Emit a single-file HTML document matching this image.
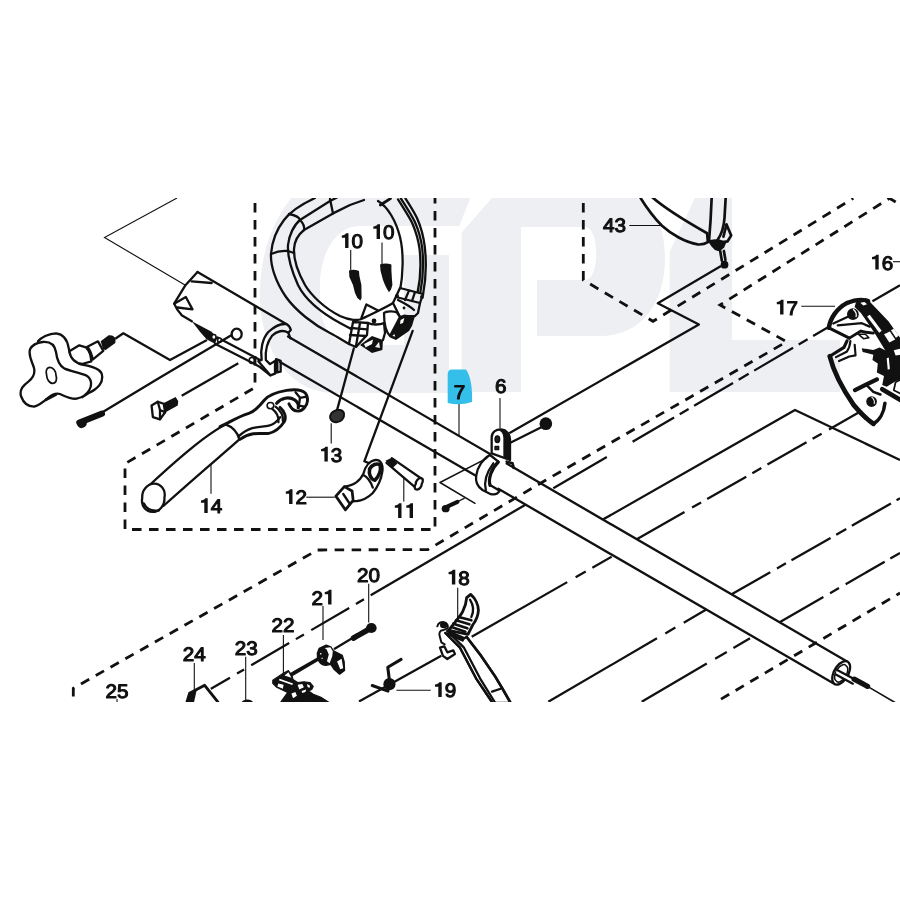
<!DOCTYPE html>
<html><head><meta charset="utf-8"><title>Parts diagram</title>
<style>
html,body{margin:0;padding:0;background:#fff;}
body{width:900px;height:900px;overflow:hidden;font-family:"Liberation Sans",sans-serif;}
svg{display:block;}
</style></head><body>
<svg width="900" height="900" viewBox="0 0 900 900">
<defs><clipPath id="clip"><rect x="0" y="198" width="900" height="503.5"/></clipPath></defs>
<rect width="900" height="900" fill="#fff"/>
<g clip-path="url(#clip)">
<g fill="none" stroke="#111" stroke-width="2.3" stroke-linejoin="round">
<path d="M115.3,338.7 L123.3,333.3 L170,360 L207,340"/>
<path d="M181.7,395.8 L238.3,363.3"/>
<path d="M721,266 L657.8,303.3 L698.9,324.4 L509.2,433.3"/>
<path d="M601.5,520.3 L795,410 L900,460"/>
<path d="M359,701.4 L441.3,655.7"/>
<path d="M900,285.3 L872.4,301.3"/>
</g>
<g fill="none" stroke="#111" stroke-width="2.3"><path d="M827.6,327.6 L553.3,488.3" stroke-dasharray="16.8 6.4 10.3 6.5 45.1 6.4 11.6 6.5 45.1 6.4 10.3 6.5 48.1 29.9 70"/>
<path d="M526.7,503.9 L370.7,595.3"/>
<path d="M370.7,595.3 L210.9,688.9" stroke-dasharray="0 7.8 9.3 7.8 44 8.5 9.3 7.8 44 8.2 8.2 8.2 22"/>
<path d="M471.7,636.7 L611.7,556.7" stroke-dasharray="110 9.7 11.6 7.7 26"/>
<path d="M635,540.2 L863,410" stroke-dasharray="57 8.7 10.4 7 45 7 10.4 7 45 7 10.4 8.5 60"/>
<path d="M548.3,701.7 L706.7,609.3" stroke-dasharray="125.8 9.7 11.6 9.7 30"/>
<path d="M729,595.8 L900,498.3" stroke-dasharray="47.5 7.7 10.3 6.4 45 6.5 11.6 6.4 45 6.5 11.6 6.5 45"/>
<path d="M641.7,701.7 L750,638.3" stroke-dasharray="75.4 9.7 13.5 7.7 24"/>
<path d="M777,623.7 L900,553" stroke-dasharray="53.5 7.7 10.3 7.7 45 6.5 11.6 6.5 45"/></g>
<g fill="none" stroke="#111" stroke-width="1.1">
<path d="M177,198 L104.5,237.5 L185,285"/>
<path d="M350.7,250 V270"/>
<path d="M382,242.5 V265"/>
<path d="M629.3,225.5 H661.2"/>
<path d="M893,261.7 H900"/>
<path d="M801.3,306.3 H835"/>
<path d="M459,403 V435"/>
<path d="M500,398 V428"/>
<path d="M331.2,423.3 V443.4"/>
<path d="M306.3,497.2 H334.8"/>
<path d="M403.8,477 V501.4"/>
<path d="M211,463.7 V493.7"/>
<path d="M368.7,583.7 V622.5"/>
<path d="M323,606 V640"/>
<path d="M283.4,635 V672.9"/>
<path d="M245.7,656.7 V701"/>
<path d="M194.3,663 V690"/>
<path d="M457.7,587.7 V618"/>
<path d="M396.4,690.3 H430.7"/>
<path d="M117,699 V702"/>
</g>
<g transform="translate(0,0) scale(1.000000)" fill="none" stroke="#111" stroke-width="2.30" stroke-linejoin="round" stroke-linecap="round">
<path d="M288,336.5 L847.5,661.7 L833.3,683.3 L280,362 Z" fill="#fff" stroke="none"/>
<path d="M288,336.5 L490,453.9 M506.7,463.6 L847.5,661.7"/>
<path d="M280,362 L476.7,476.2 M498.3,488.8 L833.3,683.3"/>
</g>
<g transform="translate(260,195) scale(0.200000)" fill="none" stroke="#111" stroke-width="11.50" stroke-linejoin="round" stroke-linecap="round">
<path d="M275,15 C200,50 150,85 120,125 C85,170 60,230 55,295 C52,350 75,430 130,510 C180,580 270,650 350,690 C385,708 415,728 445,745 L480,760 L560,790 L612,775 L615,725 L650,712 L680,725 L745,680 L760,655 L775,605 L790,590 L800,540 L815,495 C835,420 840,310 820,230 C800,150 760,70 720,15 L720,-20 L275,-20 Z M520,25 L450,50 L365,92 L220,175 C195,195 172,230 170,270 C168,320 185,380 225,450 C255,500 320,565 400,605 C450,628 490,628 507,620 C540,605 570,590 590,580 C630,560 650,550 665,540 C685,525 695,505 700,480 C715,400 720,290 700,210 C680,130 640,60 590,30 L590,-10 L520,-10 Z" fill="#fff" fill-rule="evenodd" stroke="none"/>
<path d="M275,15 C200,50 150,85 120,125 C85,170 60,230 55,295 C52,350 75,430 130,510 C180,580 270,650 350,690 C385,708 415,728 445,745"/>
<path d="M385,12 L350,30 L200,125 C170,150 145,200 140,250 C137,300 150,360 190,450 C220,510 290,580 400,640 L465,675"/>
<path d="M520,25 L450,50 L365,92 L220,175 C195,195 172,230 170,270 C168,320 185,380 225,450 C255,500 320,565 400,605 C450,628 490,628 507,620 C540,605 570,590 590,580 C630,560 650,550 665,540 C685,525 695,505 700,480 C715,400 720,290 700,210 C680,130 640,60 590,30"/>
<path d="M350,20 L365,92"/>
<path d="M145,95 Q195,105 200,125 Q225,150 220,175"/>
<path d="M55,295 Q100,275 140,280 L170,290"/>
<path d="M727,17 C755,60 775,95 785,115 C805,160 818,210 824,260 C832,330 830,420 815,500"/>
<path d="M704,17 C735,65 760,105 774,134 C792,175 805,220 811,265 C818,330 816,420 800,497"/>
<path d="M690,22 C722,72 747,112 761,140 C779,182 792,225 798,270 C805,335 803,420 787,492"/>
<path d="M652,18 L602,50" stroke-width="14"/>
<path d="M507,615 L532,547 L590,577"/>
<path d="M465,635 L540,640 L535,700 L480,760 L445,745 Z" fill="#fff"/>
<path d="M500,640 L480,755"/>
<path d="M455,665 L535,672"/>
<path d="M450,700 L530,705"/>
<path d="M500,750 L560,705 L615,725 L612,775 L560,790 Z" fill="#111" stroke="none"/>
<path d="M520,745 L565,722 L560,745 L528,762 Z" fill="#fff" stroke="none"/>
<path d="M575,760 L595,735 L600,765 Z" fill="#fff" stroke="none"/>
<path d="M540,640 C560,650 600,650 620,640 L625,690 L615,725"/>
<path d="M700,465 L815,495 L800,540 L790,590 L775,605 L700,610 L665,540 Z" fill="#fff"/>
<path d="M680,510 L800,540"/>
<path d="M745,478 L725,525"/>
<path d="M775,486 L760,530"/>
<path d="M690,525 C720,540 750,555 770,575"/>
<path d="M620,590 C630,580 670,578 685,588 L700,610 L650,705 C635,690 620,650 620,590 Z" fill="#fff"/>
<path d="M695,610 L720,598 L775,605 L760,655 L745,680 L680,725 L650,712 Z" fill="#111" stroke="none"/>
<path d="M703,625 L722,615 L715,640 L700,645 Z" fill="#fff" stroke="none"/>
<path d="M662,705 L672,695 L676,708 Z" fill="#fff" stroke="none"/>
<path d="M675,505 a10,10 0 1,0 20,0 a10,10 0 1,0 -20,0 M800,510 a10,10 0 1,0 20,0 a10,10 0 1,0 -20,0 M558,630 a12,12 0 1,0 24,0 a12,12 0 1,0 -24,0 M713,565 a7,7 0 1,0 14,0 a7,7 0 1,0 -14,0" fill="#111" stroke="none"/>
<path d="M445,378 Q470,368 495,380 L497,405 L507,450 L508,515 L502,528 L487,515 L475,490 L465,450 L447,410 Z" fill="#111" stroke="none"/>
<path d="M600,348 Q628,336 657,348 L657,378 L660,425 L662,450 L655,472 L645,486 L635,470 L625,450 L615,425 L603,380 Z" fill="#111" stroke="none"/>
</g>
<g transform="translate(780,280) scale(0.177778)" fill="none" stroke="#111" stroke-width="12.94" stroke-linejoin="round" stroke-linecap="round">
<path d="M275,269 C285,200 340,130 465,109 L495,119 L605,234 L680,340 L680,680 L590,694 C585,740 565,784 525,809 C440,750 330,600 280,429 L360,379 L390,327 Z" fill="#fff" stroke="none"/>
<path d="M275,269 C282,215 320,160 375,130 C420,112 465,107 495,119" stroke-width="25"/>
<path d="M275,269 L390,327" stroke-width="18"/>
<path d="M300,245 L385,205"/>
<path d="M325,255 L460,243 L505,262"/>
<path d="M377,192 a33,33 0 1,0 66,0 a33,33 0 1,0 -66,0" fill="#111" stroke="none"/>
<path d="M413,166 Q434,185 428,206" stroke="#fff" stroke-width="7"/>
<path d="M432,128 L495,119 L605,234 L680,340 L680,425 L600,400 L545,309 L505,249 L460,184 L425,150 Z" fill="#111" stroke-width="10"/>
<path d="M490,205 L505,195 L572,285 L558,297 Z" fill="#fff" stroke="none"/>
<path d="M585,305 L618,290 L648,335 L615,352 Z" fill="#fff" stroke="none"/>
<path d="M624,283 L640,274 L668,314 L652,325 Z" fill="#fff" stroke="none"/>
<path d="M452,128 L475,124 L490,137 L468,143 Z" fill="#fff" stroke="none"/>
<path d="M390,327 L455,287 L485,294 L525,299" stroke-width="16"/>
<path d="M440,305 L470,330 L500,325 L480,305 Z" stroke-width="9"/>
<path d="M280,429 L360,379 L377,342" stroke-width="18"/>
<path d="M315,434 L375,404 Q393,380 396,344" stroke-width="12"/>
<path d="M332,456 L390,430 L425,424 L420,364" stroke-width="12"/>
<path d="M280,429 C300,510 350,610 415,704 C450,745 490,785 525,809" stroke-width="27"/>
<path d="M525,809 C560,790 585,745 590,694" stroke-width="20"/>
<path d="M485,684 a30,30 0 1,0 60,0 a30,30 0 1,0 -60,0" fill="#111" stroke="none"/>
<path d="M517,660 Q535,675 530,695" stroke="#fff" stroke-width="6"/>
<path d="M422,619 L545,559" stroke-width="24"/>
<path d="M490,594 L525,629 L565,644" stroke-width="14"/>
<path d="M575,614 L680,676" stroke-width="26"/>
<path d="M460,384 L525,394 L560,380 L600,400 L680,425 L680,560 L650,569 L600,600 L575,590 L585,540 L545,520 L550,470 L520,450 L525,420 L465,405 Z" fill="#111" stroke="none"/>
<path d="M600,440 L612,436 L618,500 L606,505 Z" fill="#fff" stroke="none"/>
<path d="M640,395 L680,385 L680,420 L650,425 Z" fill="#fff" stroke="none"/>
<path d="M650,575 L680,560 L680,640 L640,620 Z" fill="#fff" stroke-width="10"/>
</g>
<g transform="translate(130,370) scale(0.222222)" fill="none" stroke="#111" stroke-width="10.35" stroke-linejoin="round" stroke-linecap="round">
<path d="M75,530 C150,460 250,370 330,310 C370,280 400,260 430,245 Q478,262 492,312 C440,360 330,450 150,612 Z" fill="#fff"/>
<path d="M55,575 a50,56 20 1,0 100,0 a50,56 20 1,0 -100,0" fill="#fff"/>
<path d="M62,600 Q80,640 130,632"/>
<path d="M405,255 L440,238 C470,222 500,205 535,195 C560,188 585,160 605,135 C625,112 670,98 705,92 C735,87 770,85 790,105 C805,125 800,155 785,170 C770,188 745,190 730,175 C722,165 718,160 715,152" stroke-width="13"/>
<path d="M490,297 C510,280 530,268 550,262 C580,255 605,255 625,250 C645,245 665,228 676,212"/>
<path d="M495,312 C515,298 535,290 555,287 C585,283 605,288 625,285 C650,280 675,262 695,232 C705,212 695,185 675,168" stroke-width="13"/>
<path d="M660,150 C680,125 715,118 742,135 C755,145 760,158 757,170" stroke-width="14"/>
<path d="M617,160 a15,14 0 1,0 30,0 a15,14 0 1,0 -30,0" stroke-width="7"/>
<path d="M640,175 C660,190 670,215 668,235"/>
<path d="M655,165 C675,180 690,205 688,230"/>
<path d="M745,100 L765,125 L795,120"/>
<path d="M765,125 L760,160 L785,165"/>
</g>
<g transform="translate(130,370) scale(0.222222)" fill="none" stroke="#111" stroke-width="10.35" stroke-linejoin="round" stroke-linecap="round">
<path d="M97,160 L125,143 L152,152 L158,190 L135,222 L103,212 Z" fill="#fff"/>
<path d="M125,143 L135,180 L158,190 M135,180 L135,222"/>
<path d="M150,150 L205,122 L217,140 L215,160 L160,190 Z" fill="#111" stroke="none"/>
</g>
<g transform="translate(10,320) scale(0.133333)" fill="none" stroke="#111" stroke-width="17.25" stroke-linejoin="round" stroke-linecap="round">
<path d="M210,160 C230,135 290,100 345,100 C400,105 430,150 440,210 C445,260 470,310 520,330 C560,340 620,345 665,375 C700,400 700,450 670,490 C650,515 620,535 590,548 L540,580 L300,300 Z" fill="#fff"/>
<path d="M445,235 L520,190 L570,205 C595,230 608,270 610,310 L540,330 C490,320 455,290 445,235 Z" fill="#fff"/>
<path d="M580,200 L660,160 L700,232 L620,297 C615,260 600,225 580,200 Z" fill="#fff"/>
<path d="M680,160 L740,115 Q775,110 792,140 L790,172 L715,226 L697,215 Z" fill="#111" stroke="none"/>
<path d="M150,220 C165,190 200,170 245,165 C300,160 335,185 345,240 C352,300 370,345 410,365 C450,382 520,395 570,415 C615,440 615,490 595,525 C575,560 545,580 500,590 C450,595 410,570 375,555 C345,545 320,555 290,580 C250,615 215,640 180,650 C135,650 100,620 82,570 C70,520 100,490 140,460 C170,435 190,400 180,360 C170,320 135,270 150,220 Z" fill="#fff"/>
<path d="M275,415 a35,50 -20 1,0 70,0 a35,50 -20 1,0 -70,0" stroke-width="13"/>
<path d="M270,598 L345,560" stroke-width="20"/>
</g>
<g transform="translate(10,320) scale(0.133333)" fill="none" stroke="#111" stroke-width="17.25" stroke-linejoin="round" stroke-linecap="round">
<path d="M520,770 L690,702" stroke-width="46"/>
<path d="M535,780 L545,776" stroke-width="62"/>
</g>
<g transform="translate(160,260) scale(0.166667)" fill="none" stroke="#111" stroke-width="13.80" stroke-linejoin="round" stroke-linecap="round">
<path d="M225,72 L760,385 L700,392 L640,440 L605,520 L610,600 L662,692 L330,503 L279,476 L191,368 L130,331 L85,262 L150,155 Z" fill="#fff" stroke="none"/>
<path d="M225,72 L760,385"/>
<path d="M225,72 L150,155 L85,262 Q100,300 130,331 L191,368"/>
<path d="M190,128 L310,138"/>
<path d="M85,262 L155,222 L195,296 L105,285"/>
<path d="M191,368 L307,429 L345,465 L330,503 L279,476 L240,430 Z" fill="#111" stroke="none"/>
<path d="M345,465 L612,606"/>
<path d="M330,503 L568,624 L600,642 L662,692"/>
<path d="M310,462 a13,15 0 1,0 26,0 a13,15 0 1,0 -26,0 M346,481 a11,13 0 1,0 22,0 a11,13 0 1,0 -22,0" fill="#fff" stroke-width="9"/>
<path d="M535,603 a16,18 0 1,0 32,0 a16,18 0 1,0 -32,0" stroke-width="9"/>
<path d="M430,445 a30,33 0 1,0 60,0 a30,33 0 1,0 -60,0" fill="#fff"/>
<path d="M760,385 C730,380 690,395 650,432 C615,470 600,540 610,600 L590,607 L662,692 L690,682 L690,605 L660,625 L635,600 C630,540 645,490 672,455 C700,425 740,418 770,436 L785,420 C780,400 770,390 760,385 Z" fill="#fff"/>
<path d="M770,436 L782,470"/>
<path d="M696,595 L724,605 L724,670 L696,675 Z"/>
<path d="M696,595 L711,600 L711,673 L696,675 Z" fill="#111" stroke="none"/>
</g>
<g transform="translate(420,380) scale(0.166667)" fill="none" stroke="#111" stroke-width="13.80" stroke-linejoin="round" stroke-linecap="round">
<path d="M420,450 C380,470 345,520 337,575 C332,610 345,640 375,660 L425,685 C450,690 470,680 478,665 L420,630 C410,590 425,530 470,490 Z" fill="#fff"/>
<path d="M470,492 C430,530 408,590 420,632" stroke-width="19"/>
<path d="M395,660 C385,620 395,560 440,500"/>
<path d="M430,345 C430,310 460,295 487,297 C520,300 540,325 540,355 L540,480 L430,440 Z" fill="#fff"/>
<path d="M487,297 C520,300 544,325 544,355 L544,484 L500,468 L500,350 C500,325 492,310 470,300 Z" fill="#111" stroke="none"/>
<path d="M450,355 a14,20 0 1,0 28,0 a14,20 0 1,0 -28,0" fill="#222" stroke-width="8"/>
<path d="M450,398 h22 v20 h-22 Z" fill="#222" stroke-width="8"/>
<path d="M520,490 L555,500 L562,527" stroke-width="16"/>
<path d="M545,375 L725,285"/>
<path d="M717,262 a38,38 0 1,0 76,0 a38,38 0 1,0 -76,0" fill="#111" stroke="none"/>
</g>
<g transform="translate(420,380) scale(0.166667)" fill="none" stroke="#111" stroke-width="13.80" stroke-linejoin="round" stroke-linecap="round">
<path d="M150,766 L225,731" stroke-width="24"/>
<path d="M130,772 a24,22 0 1,0 48,0 a24,22 0 1,0 -48,0" fill="#111" stroke="none"/>
<path d="M222,732 L265,710" stroke-width="8"/>
<path d="M120,615 L330,740 M120,615 L400,470" stroke-width="9"/>
</g>
<g transform="translate(620,190) scale(0.155521)" fill="none" stroke="#111" stroke-width="17.36" stroke-linejoin="round" stroke-linecap="round">
<path d="M200,40 C300,130 440,210 560,278 L565,335 C550,345 530,352 500,350 C420,335 330,285 270,230 C230,190 180,130 125,40 Z" fill="#fff"/>
<path d="M590,40 L582,200 L572,330 L625,325 C650,290 668,240 672,180 L680,40 Z" fill="#fff"/>
<path d="M685,222 L715,292 L692,330 L640,338"/>
<path d="M685,222 L665,300"/>
<path d="M565,330 L600,320 L640,318 L685,335 L670,370 L640,395 L610,385 L590,365 Z" fill="#111" stroke="none"/>
<path d="M645,395 L655,455 M668,392 L678,450"/>
<path d="M647,480 a25,25 0 1,0 50,0 a25,25 0 1,0 -50,0" fill="#111" stroke="none"/>
</g>
<g transform="translate(420,585) scale(0.133333)" fill="none" stroke="#111" stroke-width="17.25" stroke-linejoin="round" stroke-linecap="round">
<path d="M190,360 L300,470 L420,700 L545,885 L680,885 L620,780 L560,680 L450,520 L350,390 L330,400 Z" fill="#fff"/>
<path d="M190,360 L300,470 L420,700 L545,885"/>
<path d="M215,355 L330,470 L450,700 L565,885"/>
<path d="M350,390 L450,520 L560,680 L620,780 L680,885" stroke-width="20"/>
<path d="M540,800 L605,778"/>
<path d="M350,95 L380,70 C415,100 438,150 438,190 C436,240 410,280 395,300 L360,370 L215,340 C250,290 300,240 320,200 C340,160 348,130 350,95 Z" fill="#fff" stroke-width="21"/>
<path d="M375,110 C400,150 405,200 385,240"/>
<path d="M235,315 L340,350 M250,290 L355,325 M270,265 L370,295 M290,240 L385,265 M205,345 L330,400 M215,370 L320,415" stroke-width="20"/>
<path d="M130,310 C135,285 160,272 185,280 C205,288 215,310 205,325 L170,340 C150,340 140,360 148,385 L160,430 L185,445" stroke-width="15"/>
<path d="M150,300 a28,24 0 1,0 56,0 a28,24 0 1,0 -56,0" fill="#111" stroke="none"/>
<path d="M150,470 L182,460 L205,505 L250,490 L262,518 L205,555 L172,532 Z" stroke-width="17"/>
</g>
<g transform="translate(300,340) scale(0.210970)" fill="none" stroke="#111" stroke-width="10.90" stroke-linejoin="round" stroke-linecap="round">
<path d="M255,40 L175,335"/>
<path d="M534,-43 L305,575 L332,586"/>
<path d="M143,370 C140,345 165,328 190,332 C212,336 215,358 200,378 C185,395 150,395 143,370 Z" fill="#333" stroke-width="9"/>
<path d="M210,695 C255,690 285,665 300,635 C308,600 330,572 360,568 C385,568 395,595 390,625 C385,660 365,700 345,725 C320,750 285,765 250,765 Z" fill="#fff"/>
<path d="M170,740 L210,695 L247,716 L252,760 L215,805 Z" fill="#fff" stroke-width="13"/>
<path d="M205,730 L235,775"/>
<path d="M330,612 C340,590 365,582 380,592 C385,615 375,645 355,665 C335,660 325,635 330,612 Z" stroke-width="17"/>
<path d="M300,640 C320,650 335,670 345,700"/>
<path d="M435,560 L580,660 L545,697 L410,582 Z" fill="#fff" stroke="none"/>
<path d="M435,560 L580,660"/>
<path d="M410,582 L545,697"/>
<path d="M549,682 a14,21 35 1,0 28,0 a14,21 35 1,0 -28,0" fill="#fff"/>
<path d="M405,572 L435,558 L462,585 L440,605 Z" fill="#111" stroke="none"/>
</g>
<g transform="translate(280,560) scale(0.133333)" fill="none" stroke="#111" stroke-width="17.25" stroke-linejoin="round" stroke-linecap="round">
<path d="M552,585 L610,552 L680,512" stroke-width="42"/>
<path d="M645,510 a40,38 0 1,0 80,0 a40,38 0 1,0 -80,0" fill="#111" stroke="none"/>
<path d="M550,582 L410,665"/>
<path d="M294,662 L347,639 L381,652 L401,682 L467,716 L481,762 L484,829 L447,856 L407,822 L381,782 L345,790 C300,790 275,745 280,700 Z" fill="#111" stroke-width="10"/>
<path d="M335,660 L378,655 L396,684 L392,722 L372,775 L352,760 L366,709 L350,672 Z" fill="#fff" stroke="none"/>
<path d="M428,762 L462,740 L474,812 L452,820 Z" fill="#fff" stroke="none"/>
<path d="M300,700 l8,-4 l4,10 l-8,4 Z M310,735 l7,-3 l4,9 l-7,3 Z" fill="#fff" stroke="none"/>
<path d="M280,740 L90,850"/>
</g>
<g transform="translate(170,640) scale(0.177778)" fill="none" stroke="#111" stroke-width="12.94" stroke-linejoin="round" stroke-linecap="round">
<path d="M690,195 L830,112"/>
<path d="M578,226 L639,185 L666,172 L687,200 L692,222 L718,239 L753,235 L788,239 L806,261 L797,279 L779,287 L806,305 L849,322 L893,350 L622,350 L661,296 L644,287 L600,266 L578,244 Z" fill="#111" stroke-width="6"/>
<path d="M644,200 L666,182 L683,213 Z M617,218 L692,245 L688,253 L612,226 Z M609,244 L639,252 L635,274 L604,261 Z M718,252 L744,248 L753,266 L727,279 Z M683,301 L705,292 L714,314 L692,327 Z M771,248 L788,257 L784,270 L773,263 Z M740,287 L766,279 L762,292 L744,298 Z" fill="#fff" stroke="none"/>
<path d="M403,352 a32,17 0 1,1 64,0 Z" fill="#111" stroke="none"/>
<path d="M95,350 L110,300 L195,255 L270,350" stroke-width="16"/>
<path d="M95,350 L110,300 L150,282 L135,350 Z" fill="#111" stroke="none"/>
</g>
<g transform="translate(170,600) scale(0.277778)" fill="none" stroke="#111" stroke-width="8.28" stroke-linejoin="round" stroke-linecap="round">
<path d="M768,303 a22,22 0 1,0 44,0 a22,22 0 1,0 -44,0" fill="#111" stroke="none"/>
<path d="M790,290 L784,242 L832,214" stroke-width="11"/>
<path d="M728,308 L785,328" stroke-width="11"/>
</g>
<g transform="translate(750,570) scale(0.166667)" fill="none" stroke="#111" stroke-width="13.80" stroke-linejoin="round" stroke-linecap="round">
<path d="M547,617 m-45,62 a42,76 30 1,0 90,-124 a42,76 30 1,0 -90,124" fill="#fff"/>
<path d="M547,620 m-30,45 a28,55 30 1,0 60,-90 a28,55 30 1,0 -60,90" stroke-width="9"/>
<path d="M520,598 L622,653 L617,682 L515,627 Z" fill="#fff" stroke="none"/>
<path d="M520,598 L622,653 M515,627 L617,682"/>
<path d="M625,655 L705,698" stroke-width="32"/>
<path d="M705,698 L870,795" stroke-width="9"/>
</g>
<g fill="none" stroke="#111" stroke-width="2.3" stroke-linejoin="round">
<path d="M231.7,335 L160,377.5 L102,412.5"/>
</g>
<g fill="none" stroke="#111" stroke-width="2.8" stroke-dasharray="9.5 7.5">
<path d="M255,198 L255,387.5 L125,463.7 L125,529.5 L435,529.5 L435,198" stroke-dashoffset="12"/>
<path d="M73.3,701.5 L73.3,688.3 L317.5,550 L428,549.5 L546,480 L786.7,341.7 L720,305 L889.5,198.3 L900,204.5" stroke-dashoffset="12"/>
<path d="M583.3,198 L583.3,280 L653,321.3 L853.3,198.3" stroke-dashoffset="12"/>
<path d="M716.7,701.7 L900,593" stroke-dashoffset="12"/>
</g>
<g fill="#111" stroke="none">
</g>
<g fill="#edeff2" stroke="none" style="mix-blend-mode:multiply"><path d="M298,190 L473.4,190 L459.3,226 L360,226 C335,226 320,255 320,285 L320,300 C320,330 335,345 360,345 L404,345 L404,255 L449,255 L449,393 L335,393 C290,393 260,350 260,295 C260,250 275,215 298,190 Z"/>
<path d="M461.7,392 L461.7,232.5 L499,190 H600 C645,190 665,215 665,258 C665,305 640,336 600,336 H537 V280 H585 C600,280 600,227 585,227 H521 V392 Z"/>
<path d="M698.6,190 H732 V340 H840 V392 H669.6 V252 Z"/></g>
<path d="M452,369.5 H466 C471,376 472.5,390 472,402 Q460,406 447.7,403 V374.5 Q447.7,369.5 452,369.5 Z" fill="#33bfea"/>
<g font-family="Liberation Sans, sans-serif" font-size="19.5" fill="#111" stroke="#111" stroke-width="1.1" stroke-linejoin="round" text-anchor="middle" opacity="0.999" style="text-rendering:geometricPrecision">
<text transform="translate(357.25,248) scale(1.06,1)">0</text>
<text transform="translate(388.75,239) scale(1.06,1)">0</text>
<text transform="translate(608.75,231.5) scale(1.06,1)">4</text>
<text transform="translate(620.25,231.5) scale(1.06,1)">3</text>
<text transform="translate(887.45,269.5) scale(1.06,1)">6</text>
<text transform="translate(792.25,314.5) scale(1.06,1)">7</text>
<text transform="translate(459.50,399) scale(1.06,1)">7</text>
<text transform="translate(500.80,392.5) scale(1.06,1)">6</text>
<text transform="translate(336.55,461.5) scale(1.06,1)">3</text>
<text transform="translate(301.25,504) scale(1.06,1)">2</text>
<text transform="translate(216.45,513) scale(1.06,1)">4</text>
<text transform="translate(362.75,581.5) scale(1.06,1)">2</text>
<text transform="translate(374.25,581.5) scale(1.06,1)">0</text>
<text transform="translate(317.25,604.5) scale(1.06,1)">2</text>
<text transform="translate(277.25,632) scale(1.06,1)">2</text>
<text transform="translate(288.75,632) scale(1.06,1)">2</text>
<text transform="translate(240.55,654.5) scale(1.06,1)">2</text>
<text transform="translate(252.05,654.5) scale(1.06,1)">3</text>
<text transform="translate(188.55,661) scale(1.06,1)">2</text>
<text transform="translate(200.05,661) scale(1.06,1)">4</text>
<text transform="translate(111.25,697.5) scale(1.06,1)">2</text>
<text transform="translate(122.75,697.5) scale(1.06,1)">5</text>
<text transform="translate(464.05,584.5) scale(1.06,1)">8</text>
<text transform="translate(450.45,697) scale(1.06,1)">9</text>
</g>
<g fill="#111" stroke="none"><path transform="translate(340.00,248)" d="M5.1,0 L5.1,-10.3 L1.8,-10.3 L1.8,-12.5 C3.8,-12.6 5.4,-13.4 6.0,-14.7 L8.5,-14.7 L8.5,0 Z"/>
<path transform="translate(371.50,239)" d="M5.1,0 L5.1,-10.3 L1.8,-10.3 L1.8,-12.5 C3.8,-12.6 5.4,-13.4 6.0,-14.7 L8.5,-14.7 L8.5,0 Z"/>
<path transform="translate(870.20,269.5)" d="M5.1,0 L5.1,-10.3 L1.8,-10.3 L1.8,-12.5 C3.8,-12.6 5.4,-13.4 6.0,-14.7 L8.5,-14.7 L8.5,0 Z"/>
<path transform="translate(775.00,314.5)" d="M5.1,0 L5.1,-10.3 L1.8,-10.3 L1.8,-12.5 C3.8,-12.6 5.4,-13.4 6.0,-14.7 L8.5,-14.7 L8.5,0 Z"/>
<path transform="translate(319.30,461.5)" d="M5.1,0 L5.1,-10.3 L1.8,-10.3 L1.8,-12.5 C3.8,-12.6 5.4,-13.4 6.0,-14.7 L8.5,-14.7 L8.5,0 Z"/>
<path transform="translate(284.00,504)" d="M5.1,0 L5.1,-10.3 L1.8,-10.3 L1.8,-12.5 C3.8,-12.6 5.4,-13.4 6.0,-14.7 L8.5,-14.7 L8.5,0 Z"/>
<path transform="translate(393.00,518)" d="M5.1,0 L5.1,-10.3 L1.8,-10.3 L1.8,-12.5 C3.8,-12.6 5.4,-13.4 6.0,-14.7 L8.5,-14.7 L8.5,0 Z"/>
<path transform="translate(404.50,518)" d="M5.1,0 L5.1,-10.3 L1.8,-10.3 L1.8,-12.5 C3.8,-12.6 5.4,-13.4 6.0,-14.7 L8.5,-14.7 L8.5,0 Z"/>
<path transform="translate(199.20,513)" d="M5.1,0 L5.1,-10.3 L1.8,-10.3 L1.8,-12.5 C3.8,-12.6 5.4,-13.4 6.0,-14.7 L8.5,-14.7 L8.5,0 Z"/>
<path transform="translate(323.00,604.5)" d="M5.1,0 L5.1,-10.3 L1.8,-10.3 L1.8,-12.5 C3.8,-12.6 5.4,-13.4 6.0,-14.7 L8.5,-14.7 L8.5,0 Z"/>
<path transform="translate(446.80,584.5)" d="M5.1,0 L5.1,-10.3 L1.8,-10.3 L1.8,-12.5 C3.8,-12.6 5.4,-13.4 6.0,-14.7 L8.5,-14.7 L8.5,0 Z"/>
<path transform="translate(433.20,697)" d="M5.1,0 L5.1,-10.3 L1.8,-10.3 L1.8,-12.5 C3.8,-12.6 5.4,-13.4 6.0,-14.7 L8.5,-14.7 L8.5,0 Z"/></g>
</g>
</svg>
</body></html>
